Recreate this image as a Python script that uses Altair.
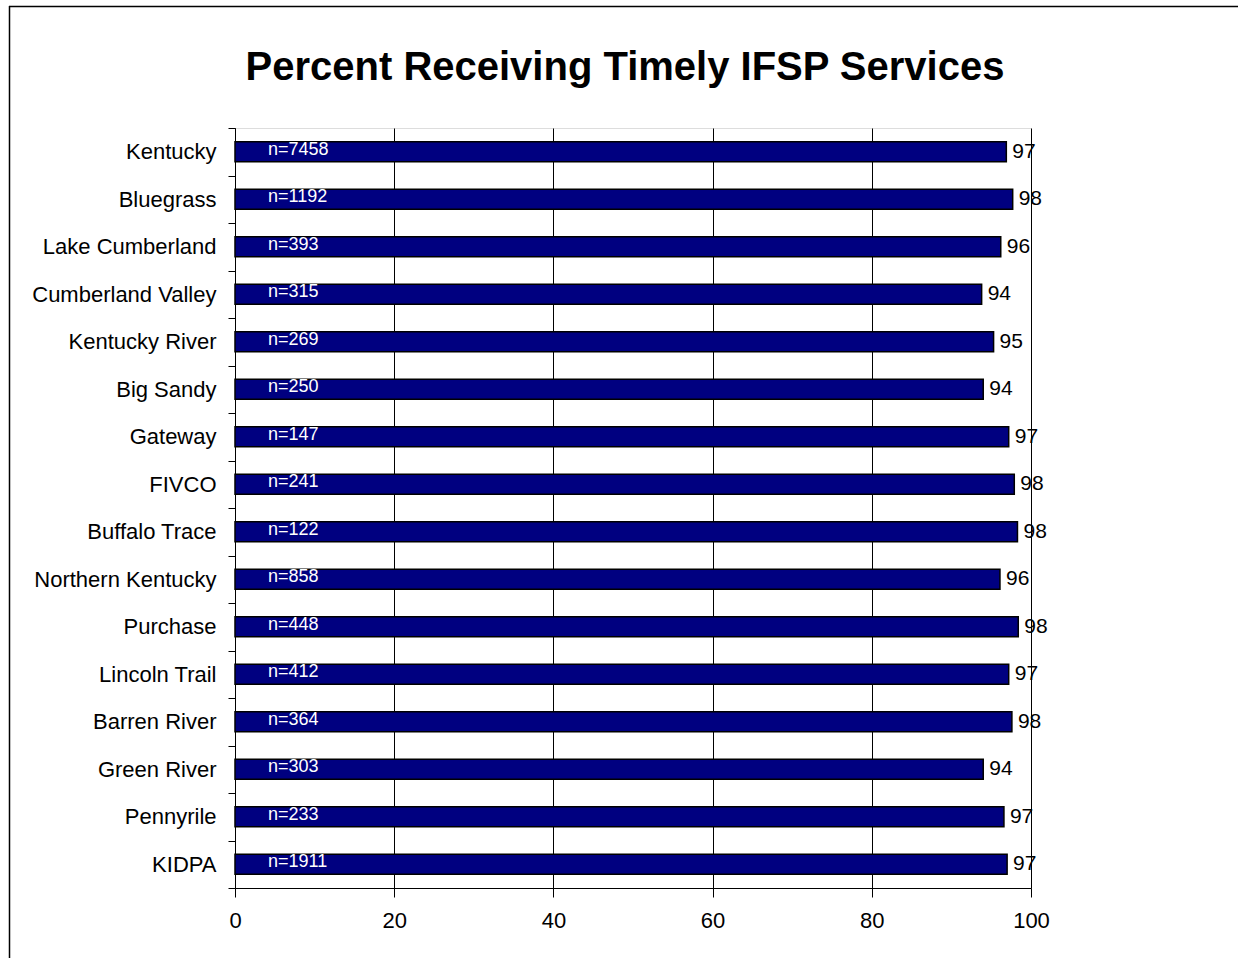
import altair as alt
import pandas as pd

# Regions, top to bottom
regions = [
    "Kentucky", "Bluegrass", "Lake Cumberland", "Cumberland Valley",
    "Kentucky River", "Big Sandy", "Gateway", "FIVCO", "Buffalo Trace",
    "Northern Kentucky", "Purchase", "Lincoln Trail", "Barren River",
    "Green River", "Pennyrile", "KIDPA",
]
# Percent of children receiving timely IFSP services
percent = [96.9, 97.7, 96.2, 93.8, 95.3, 94.0, 97.2, 97.9, 98.3,
           96.1, 98.4, 97.2, 97.6, 94.0, 96.6, 97.0]
# Number of children in each region
counts = [7458, 1192, 393, 315, 269, 250, 147, 241, 122,
          858, 448, 412, 364, 303, 233, 1911]
x_ticks = [0, 20, 40, 60, 80, 100]

df = pd.DataFrame({"region": regions, "pct": percent, "n": counts})
df["n_label"] = ["n=" + str(v) for v in counts]

FONT = "Liberation Sans"
W, H = 796, 760

y_enc = alt.Y(
    "region:N",
    sort=regions,
    title=None,
    scale=alt.Scale(paddingInner=0, paddingOuter=0),
    axis=alt.Axis(
        tickBand="extent", tickSize=7, tickColor="#000", tickWidth=1,
        domainColor="#000", domainWidth=1, labelFont=FONT, labelFontSize=22,
        labelColor="#000", labelPadding=12, labelLimit=400, grid=False,
    ),
)
x_enc = alt.X(
    "pct:Q",
    title=None,
    scale=alt.Scale(domain=[0, 100], nice=False),
    axis=alt.Axis(
        values=x_ticks, tickSize=9, tickColor="#000", tickWidth=1,
        domainColor="#000", domainWidth=1, labelFont=FONT, labelFontSize=22,
        labelColor="#000", labelPadding=13, labelFlush=False, grid=True,
        gridColor="#000", gridWidth=1, gridOpacity=1,
    ),
)

base = alt.Chart(df)

bars = base.mark_bar(
    color="#000080", stroke="#000", strokeWidth=1.5, size=20
).encode(x=x_enc, y=y_enc)

values = base.mark_text(
    align="left", baseline="middle", dx=6, font=FONT, fontSize=21, color="#000"
).encode(
    x="pct:Q",
    y=alt.Y("region:N", sort=regions),
    text=alt.Text("pct:Q", format=".0f"),
)

n_labels = base.mark_text(
    align="left", baseline="middle", dy=-2, font=FONT, fontSize=18, color="#fff"
).encode(
    x=alt.value(33),
    y=alt.Y("region:N", sort=regions),
    text="n_label:N",
)

# Outer frame around the whole figure
frame_top = alt.Chart(pd.DataFrame({"k": [0]})).mark_rule(
    color="#000", strokeWidth=1.5
).encode(x=alt.value(-226), x2=alt.value(1010), y=alt.value(-121.5))
frame_left = alt.Chart(pd.DataFrame({"k": [0]})).mark_rule(
    color="#000", strokeWidth=1.5
).encode(x=alt.value(-225.5), y=alt.value(-122), y2=alt.value(835))

chart = (
    alt.layer(bars, values, n_labels, frame_top, frame_left)
    .properties(
        width=W,
        height=H,
        title=alt.TitleParams(
            "Percent Receiving Timely IFSP Services",
            font=FONT, fontSize=40, fontWeight="bold", color="#000",
            anchor="middle", dx=-8, baseline="alphabetic", offset=0, dy=115,
        ),
        autosize=alt.AutoSizeParams(type="none"),
        padding={"left": 235, "top": 128, "right": 207, "bottom": 70},
    )
    .configure_view(stroke="#000", strokeWidth=1)
    .configure(background="#fff")
)

chart.save("out.html", embed_options={"renderer": "svg", "actions": False})
